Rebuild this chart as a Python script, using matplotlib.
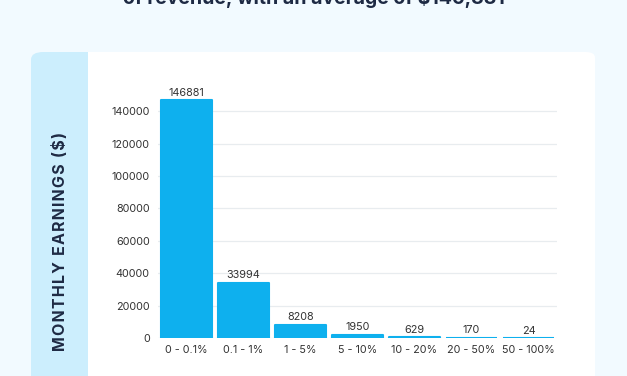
import matplotlib.pyplot as plt
from matplotlib.patches import FancyBboxPatch, Rectangle

# share of revenue buckets and average monthly earnings
categories = ['0 - 0.1%', '0.1 - 1%', '1 - 5%', '5 - 10%', '10 - 20%', '20 - 50%', '50 - 100%']
earnings = [146881, 33994, 8208, 1950, 629, 170, 24]
yticks = [0, 20000, 40000, 60000, 80000, 100000, 120000, 140000]

plt.rcParams['font.family'] = ['Inter', 'DejaVu Sans']

W, H = 627, 376
fig = plt.figure(figsize=(W / 100, H / 100), dpi=100)
fig.patch.set_facecolor('#F2FAFF')

def fx(px):
    return px / W

def fy(py):
    return 1 - py / H

# card background: light blue strip + white panel
fig.patches.append(FancyBboxPatch((fx(31), fy(400)), fx(100) - fx(31), fy(52) - fy(400),
                                  boxstyle='round,pad=0,rounding_size=0.02',
                                  transform=fig.transFigure, facecolor='#CCEEFD',
                                  edgecolor='none', zorder=-3))
fig.patches.append(FancyBboxPatch((fx(88), fy(400)), fx(595) - fx(88), fy(52) - fy(400),
                                  boxstyle='round,pad=0,rounding_size=0.015',
                                  transform=fig.transFigure, facecolor='white',
                                  edgecolor='none', zorder=-2))
fig.patches.append(Rectangle((fx(88), fy(400)), fx(130) - fx(88), fy(52) - fy(400),
                             transform=fig.transFigure, facecolor='white',
                             edgecolor='none', zorder=-1))

# title, cut off by the top edge as in the source image
fig.text(fx(314), fy(4), 'of revenue, with an average of $146,881', ha='center',
         va='baseline', fontsize=14, fontweight='bold', color='#1E2A44')

ax = fig.add_axes([fx(158), fy(338), fx(557) - fx(158), fy(95) - fy(338)])
ax.set_facecolor('none')

x = range(len(categories))
ax.bar(x, earnings, width=0.88, color='#0EB0EE', edgecolor='#0EB0EE',
       linewidth=1.5, joinstyle='round', zorder=3)
for xi, v in zip(x, earnings):
    ax.text(xi, v + 1500, str(v), ha='center', va='bottom', fontsize=7.8, color='#333333')

ax.set_xlim(-0.5, len(categories) - 0.5)
ax.set_ylim(0, 150000)
ax.set_yticks(yticks)
ax.set_yticklabels([str(t) for t in yticks])
ax.set_xticks(list(x))
ax.set_xticklabels(categories)
ax.tick_params(axis='both', length=0, labelsize=7.8, colors='#333333')
ax.tick_params(axis='y', pad=6)
ax.tick_params(axis='x', pad=5)
ax.grid(axis='y', color='#E8ECEF', linewidth=0.9, zorder=0)
for s in ax.spines.values():
    s.set_visible(False)

ylabel = '\u200a'.join('MONTHLY EARNINGS ($)')
fig.text(fx(60), fy(241), ylabel,
         rotation=90, ha='center', va='center', fontsize=11.5, fontweight='bold',
         color='#1E2A44')

fig.savefig('out.png', dpi=100, facecolor=fig.get_facecolor())
